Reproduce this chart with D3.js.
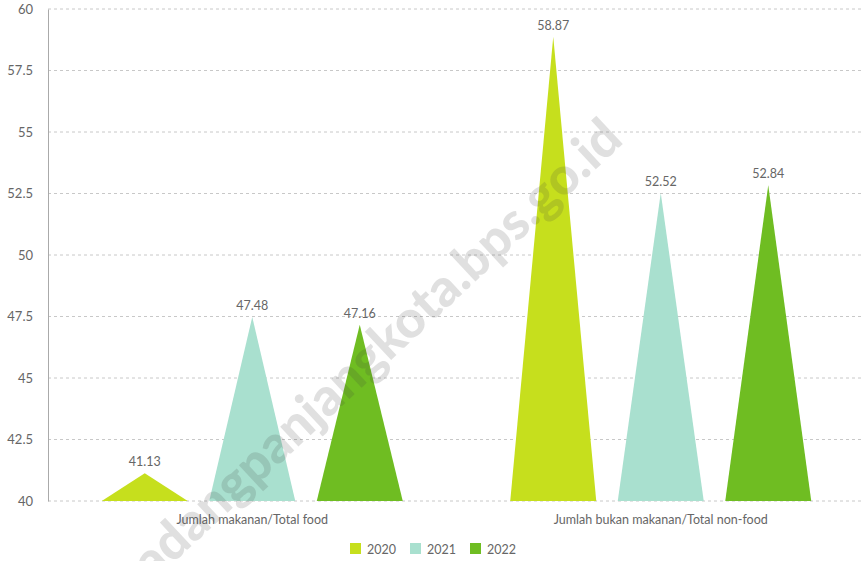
<!DOCTYPE html>
<html>
<head>
<meta charset="utf-8">
<script src="https://cdn.jsdelivr.net/npm/d3@7"></script>
<style>
  html, body { margin: 0; padding: 0; background: #fff; }
  svg { display: block; font-family: Lato, "Open Sans", sans-serif; }
</style>
</head>
<body>
<svg id="chart" width="865" height="561"></svg>
<script>
const categories = ["Jumlah makanan/Total food", "Jumlah bukan makanan/Total non-food"];
const years = ["2020", "2021", "2022"];
const values2020 = [41.13, 58.87];
const values2021 = [47.48, 52.52];
const values2022 = [47.16, 52.84];
const yTicks = [40, 42.5, 45, 47.5, 50, 52.5, 55, 57.5, 60];
const colors = ["#c6df1d", "#a9e0cf", "#6fbd22"];
const watermark = "padangpanjangkota.bps.go.id";

const seriesValues = [values2020, values2021, values2022];

const svg = d3.select("#chart");
const W = 865, H = 561;
const m = { left: 48, right: 0, top: 9, bottom: 60 };
const plotBottom = 501;

const x0 = d3.scaleBand().domain(categories).range([m.left, W - m.right]).paddingInner(0).paddingOuter(0);
const x1 = d3.scaleBand().domain(years).range([0, x0.bandwidth()]).paddingInner(0.2).paddingOuter(0.5);
const y = d3.scaleLinear().domain([40, 60]).range([plotBottom, m.top]);

// grid
svg.append("g").selectAll("line").data(yTicks).join("line")
  .attr("x1", m.left).attr("x2", W - 3)
  .attr("y1", d => y(d)).attr("y2", d => y(d))
  .attr("stroke", "#c8c8c8").attr("stroke-width", 1)
  .attr("stroke-dasharray", "3,3");

// y axis
const yAxis = d3.axisLeft(y).tickValues(yTicks).tickSize(0).tickPadding(15)
  .tickFormat(d => String(d));
const gy = svg.append("g").attr("transform", `translate(${m.left},0)`).call(yAxis);
gy.select(".domain").attr("stroke", "#aaaaaa");
gy.selectAll("text").attr("fill", "#666").attr("font-size", 13).attr("font-family", "Lato, sans-serif");

// triangles
const groups = svg.append("g").selectAll("g").data(categories).join("g")
  .attr("transform", d => `translate(${x0(d)},0)`);

groups.each(function(cat, ci) {
  const g = d3.select(this);
  years.forEach((yr, si) => {
    const v = seriesValues[si][ci];
    const xl = x1(yr), xr = x1(yr) + x1.bandwidth(), xc = x1(yr) + x1.bandwidth() / 2;
    g.append("path")
      .attr("d", `M${xl},${y(40)}L${xc},${y(v)}L${xr},${y(40)}Z`)
      .attr("fill", colors[si]);
    g.append("text")
      .attr("x", xc).attr("y", y(v) - 7)
      .attr("text-anchor", "middle")
      .attr("font-size", 12.5).attr("fill", "#666")
      .text(v.toFixed(2));
  });
});

// category labels
const xAxis = d3.axisBottom(x0).tickSize(0).tickPadding(14);
const gx = svg.append("g").attr("transform", `translate(0,${plotBottom})`).call(xAxis);
gx.select(".domain").remove();
gx.selectAll("text").attr("fill", "#666").attr("font-size", 12.5).attr("font-family", "Lato, sans-serif");

// legend
const legend = svg.append("g");
const legX = [350, 410, 470];
years.forEach((yr, i) => {
  legend.append("rect").attr("x", legX[i]).attr("y", 543).attr("width", 11).attr("height", 11).attr("fill", colors[i]);
  legend.append("text").attr("x", legX[i] + 17).attr("y", 553.5)
    .attr("font-size", 12.5).attr("fill", "#666").text(yr);
});

// watermark
svg.append("text")
  .attr("transform", "translate(625,142) rotate(-43)")
  .attr("text-anchor", "end")
  .attr("font-size", 52).attr("font-weight", "900")
  .attr("fill", "rgba(60,60,60,0.16)")
  .text(watermark);
</script>
</body>
</html>
